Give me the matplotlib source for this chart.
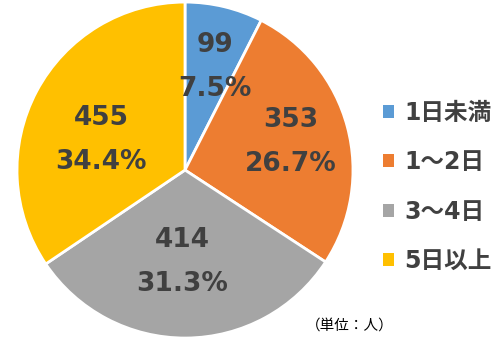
import numpy as np
import matplotlib
matplotlib.use("Agg")
import matplotlib.pyplot as plt
from matplotlib.patches import Patch

plt.rcParams['font.family'] = ['DejaVu Sans', 'Noto Sans CJK JP']

# データ
categories = ['1日未満', '1～2日', '3～4日', '5日以上']
counts = [99, 353, 414, 455]
percents = ['7.5%', '26.7%', '31.3%', '34.4%']
colors = ['#5B9BD5', '#ED7D31', '#A5A5A5', '#FFC000']

# ラベル位置（円の中心からのずれ、半径=1）
label_pos = [(0.179, 0.613), (0.631, 0.167), (-0.018, -0.548), (-0.50, 0.179)]

fig = plt.figure(figsize=(5, 3.46), dpi=100)
ax = fig.add_axes([0.034, 0.023, 0.672, 0.971])

wedges, _ = ax.pie(counts, colors=colors, startangle=90, counterclock=False,
                   radius=1.0, wedgeprops=dict(edgecolor='white', linewidth=2))
ax.set_xlim(-1, 1)
ax.set_ylim(-1, 1)
ax.set_aspect('equal')

for (x, y), c, p in zip(label_pos, counts, percents):
    ax.text(x, y + 0.13, str(c), ha='center', va='center', fontsize=19,
            fontweight='bold', color='#404040')
    ax.text(x, y - 0.13, p, ha='center', va='center', fontsize=19,
            fontweight='bold', color='#404040')

handles = [Patch(facecolor=col, edgecolor='none') for col in colors]
leg = fig.legend(handles, categories, loc='center left',
                 bbox_to_anchor=(0.766, 0.46), frameon=False, borderpad=0,
                 borderaxespad=0,
                 handlelength=0.45, handleheight=0.45, handletextpad=0.45,
                 labelspacing=1.08,
                 prop={'family': ['DejaVu Sans', 'Noto Sans CJK JP'],
                       'weight': 'bold', 'size': 17})
for t in leg.get_texts():
    t.set_color('#404040')

fig.text(0.612, 0.06, '（単位：人）', fontsize=10.5, color='#000000',
         family=['Noto Sans CJK JP', 'DejaVu Sans'], ha='left', va='center')

fig.savefig('out.png', dpi=100)
